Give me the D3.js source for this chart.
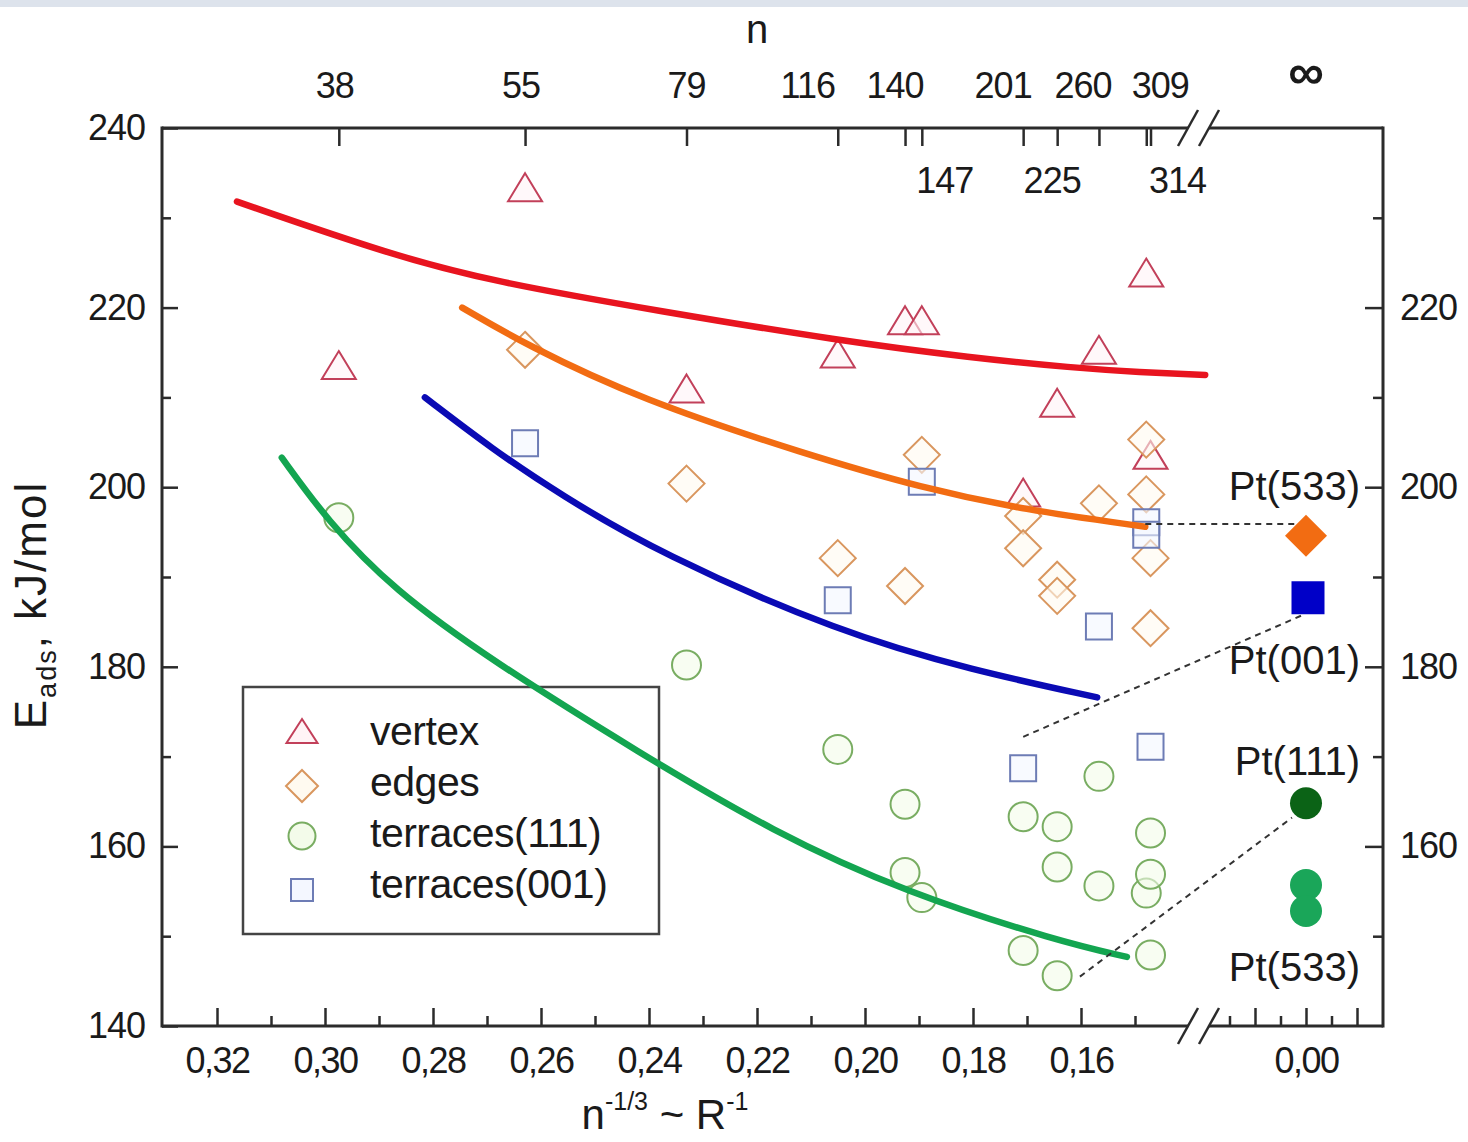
<!DOCTYPE html>
<html>
<head>
<meta charset="utf-8">
<script src="https://cdn.jsdelivr.net/npm/d3@7"></script>
<style>
  body { margin: 0; background: #fff; }
  svg { display: block; font-family: 'Liberation Sans', Arial, sans-serif; }
</style>
</head>
<body>
<svg id="chart" width="1468" height="1142"></svg>
<script>
// cluster sizes on the top axis (position = n^-1/3)
var topN = [38, 55, 79, 116, 140, 147, 201, 225, 260, 309, 314]
var topLabelsUp = [38, 55, 79, 116, 140, 201, 260, 309]
var topLabelsDown = [147, 225, 314]

// bottom / side ticks
var xMajor = [0.32, 0.30, 0.28, 0.26, 0.24, 0.22, 0.20, 0.18, 0.16]
var xMinor = [0.31, 0.29, 0.27, 0.25, 0.23, 0.21, 0.19, 0.17, 0.15]
var xrMajor = [0.02, 0.00, -0.02]
var xrMinor = [0.03, 0.01, -0.01]
var xrLabels = [0.00]
var yMajor = [140, 160, 180, 200, 220, 240]
var yMinor = [150, 170, 190, 210, 230]
var yRightLabels = [160, 180, 200, 220]

// adsorption energies, kJ/mol
var vertexN = [38, 55, 79, 116, 140, 147, 201, 225, 260, 309, 314]
var vertexE = [213.6, 233.4, 211.0, 214.9, 218.6, 218.6, 199.4, 209.4, 215.3, 223.9, 203.6]

var edgesN = [55, 79, 116, 140, 147, 201, 201, 225, 225, 260, 309, 309, 314, 314]
var edgesE = [215.3, 200.4, 192.1, 189.0, 203.6, 196.8, 193.2, 189.7, 187.9, 198.2, 205.3, 199.2, 192.1, 184.3]

var t111N = [38, 79, 116, 140, 140, 147, 201, 201, 225, 225, 225, 260, 260, 309, 314, 314, 314]
var t111E = [196.6, 180.2, 170.8, 164.7, 157.1, 154.3, 163.3, 148.4, 162.2, 157.7, 145.6, 167.8, 155.6, 154.8, 161.5, 156.9, 147.9]

var t001N = [55, 116, 147, 201, 260, 309, 309, 314]
var t001E = [204.9, 187.4, 200.6, 168.7, 184.5, 196.1, 194.7, 171.1]

// fitted curves [n^-1/3, E]
var fitVertex = [[0.3163, 231.8], [0.2874, 225.8], [0.2689, 222.9], [0.2380, 219.6], [0.2046, 216.3], [0.1800, 214.4], [0.1615, 213.3], [0.1491, 212.8], [0.1370, 212.5]]
var fitEdges = [[0.2746, 220.0], [0.2626, 215.8], [0.2417, 209.8], [0.2107, 203.6], [0.1893, 199.9], [0.1707, 197.5], [0.1481, 195.6]]
var fit001 = [[0.2815, 210.0], [0.2689, 204.2], [0.2565, 199.2], [0.2380, 192.6], [0.2046, 183.8], [0.1800, 179.6], [0.1570, 176.6]]
var fit111 = [[0.3080, 203.3], [0.2996, 196.3], [0.2874, 188.6], [0.2689, 180.6], [0.2417, 170.4], [0.2170, 161.6], [0.1922, 154.8], [0.1639, 149.4], [0.1515, 147.7]]

// bulk surfaces (n = infinity)
var surfLabels = ['Pt(533)', 'Pt(001)', 'Pt(111)', 'Pt(533)']
var surfLabelE = [198.6, 179.2, 167.9, 145.0]
var pt533EdgeE = [194.6]
var pt001E = [187.7]
var pt111E = [164.8]
var pt533TerrE = [155.7, 152.8]

// dashed connectors: [from n^-1/3, from E, to x (right part), to E]
var connectors = [
    [0.1481, 195.9, 0.004, 195.9],
    [0.1707, 172.2, 0.001, 185.8],
    [0.1602, 145.5, 0.0055, 163.2]
]

var legendItems = ['vertex', 'edges', 'terraces(111)', 'terraces(001)']

var svg = d3.select('#chart')
var x = d3.scaleLinear().domain([0.32, 0.14]).range([217, 1189])
var xr = d3.scaleLinear().domain([0.02, -0.02]).range([1255, 1357])
var y = d3.scaleLinear().domain([140, 240]).range([1026, 128])
var L = 162, R = 1383, T = 128, B = 1026
var ink = '#2b2b2b'
var comma = function(v) { return d3.format('.2f')(v).replace('.', ',') }
var nx = function(n) { return x(Math.pow(n, -1 / 3)) }

svg.append('rect').attr('width', 1468).attr('height', 7).attr('fill', '#dde3ec')

function styleAxis(g) {
    g.select('.domain').remove()
    g.selectAll('.tick line').attr('stroke', ink).attr('stroke-width', 2.5)
    g.selectAll('.tick text').attr('fill', '#1a1a1a')
        .style('font-size', '36px')
    g.attr('font-family', null)
}

// bottom axis, left part
svg.append('g').attr('transform', 'translate(0,' + B + ')')
    .call(d3.axisBottom(x).tickValues(xMajor).tickSize(-18).tickPadding(21).tickFormat(comma))
    .call(styleAxis)
    .selectAll('.tick text').style('letter-spacing', '-1.5px')
svg.append('g').attr('transform', 'translate(0,' + B + ')')
    .call(d3.axisBottom(x).tickValues(xMinor).tickSize(-10).tickFormat(''))
    .call(styleAxis)
// bottom axis, right part
svg.append('g').attr('transform', 'translate(0,' + B + ')')
    .call(d3.axisBottom(xr).tickValues(xrMajor).tickSize(-18).tickFormat(''))
    .call(styleAxis)
svg.append('g').attr('transform', 'translate(0,' + B + ')')
    .call(d3.axisBottom(xr).tickValues(xrMinor).tickSize(-10).tickFormat(''))
    .call(styleAxis)
svg.append('g').attr('transform', 'translate(0,' + B + ')')
    .call(d3.axisBottom(xr).tickValues(xrLabels).tickSize(0).tickPadding(21).tickFormat(comma))
    .call(styleAxis)
    .selectAll('.tick text').style('letter-spacing', '-1.5px')

// left axis
svg.append('g').attr('transform', 'translate(' + L + ',0)')
    .call(d3.axisLeft(y).tickValues(yMajor).tickSize(-16).tickPadding(17).tickFormat(d3.format('d')))
    .call(styleAxis)
    .selectAll('.tick text').style('letter-spacing', '-1px')
svg.append('g').attr('transform', 'translate(' + L + ',0)')
    .call(d3.axisLeft(y).tickValues(yMinor).tickSize(-9).tickFormat(''))
    .call(styleAxis)

// right axis
svg.append('g').attr('transform', 'translate(' + R + ',0)')
    .call(d3.axisRight(y).tickValues(yRightLabels).tickSize(-18).tickPadding(17).tickFormat(d3.format('d')))
    .call(styleAxis)
    .selectAll('.tick text').style('letter-spacing', '-1px')
svg.append('g').attr('transform', 'translate(' + R + ',0)')
    .call(d3.axisRight(y).tickValues(yMinor).tickSize(-10).tickFormat(''))
    .call(styleAxis)

// top axis: cluster sizes
svg.append('g').attr('transform', 'translate(0,' + T + ')')
    .call(d3.axisTop(x).tickValues(topN.map(function(n) { return Math.pow(n, -1 / 3) })).tickSize(-18).tickFormat(''))
    .call(styleAxis)

var upShift = { 38: -4, 55: -4, 79: 0, 116: -30, 140: -10, 201: -20, 260: -16, 309: 14 }
var downShift = { 147: 23, 225: -5, 314: 27 }
svg.selectAll('.nUp').data(topLabelsUp).enter().append('text')
    .attr('x', function(d) { return nx(d) + upShift[d] })
    .attr('y', 98).attr('text-anchor', 'middle')
    .style('font-size', '36px').style('letter-spacing', '-1px').attr('fill', '#1a1a1a')
    .text(function(d) { return d })
svg.selectAll('.nDown').data(topLabelsDown).enter().append('text')
    .attr('x', function(d) { return nx(d) + downShift[d] })
    .attr('y', 193).attr('text-anchor', 'middle')
    .style('font-size', '36px').style('letter-spacing', '-1px').attr('fill', '#1a1a1a')
    .text(function(d) { return d })
svg.append('text').attr('x', 757).attr('y', 43).attr('text-anchor', 'middle')
    .style('font-size', '40px').attr('fill', '#1a1a1a').text('n')
svg.append('text').attr('x', xr(0)).attr('y', 89).attr('text-anchor', 'middle')
    .style('font-size', '50px').style('font-weight', 'bold').attr('fill', '#1a1a1a').text('\u221e')

// frame with axis breaks
var frame = svg.append('g').attr('stroke', ink).attr('stroke-width', 3).attr('fill', 'none')
frame.append('line').attr('x1', L).attr('x2', L).attr('y1', T - 1.5).attr('y2', B + 1.5)
frame.append('line').attr('x1', R).attr('x2', R).attr('y1', T - 1.5).attr('y2', B + 1.5)
var breaks = [1188, 1209]
;[T, B].forEach(function(yy) {
    frame.append('line').attr('x1', L).attr('x2', breaks[0]).attr('y1', yy).attr('y2', yy)
    frame.append('line').attr('x1', breaks[1]).attr('x2', R).attr('y1', yy).attr('y2', yy)
    breaks.forEach(function(cx) {
        frame.append('line').attr('x1', cx - 10).attr('y1', yy + 18)
            .attr('x2', cx + 10).attr('y2', yy - 18).attr('stroke-width', 2.5)
    })
})

// axis titles
var xt = svg.append('text').attr('x', 665).attr('y', 1129).attr('text-anchor', 'middle')
    .style('font-size', '42px').attr('fill', '#1a1a1a')
xt.append('tspan').text('n')
xt.append('tspan').attr('dy', -19).style('font-size', '25px').text('-1/3')
xt.append('tspan').attr('dy', 19).text(' ~ R')
xt.append('tspan').attr('dy', -19).style('font-size', '25px').text('-1')

var yt = svg.append('text').attr('transform', 'translate(46,605) rotate(-90)')
    .attr('text-anchor', 'middle').style('font-size', '44px').style('letter-spacing', '2px')
    .attr('fill', '#1a1a1a')
yt.append('tspan').text('E')
yt.append('tspan').attr('dy', 10).style('font-size', '27px').text('ads')
yt.append('tspan').attr('dy', -10).text(', kJ/mol')

// legend box (no fill: the green fit runs over its corner)
var legend = svg.append('g')
legend.append('rect').attr('x', 243).attr('y', 687).attr('width', 416).attr('height', 247)
    .attr('fill', 'none').attr('stroke', '#444').attr('stroke-width', 2.5)

// marker shapes
function triPath(w, h) { return 'M0,' + (-h / 2) + 'L' + (w / 2) + ',' + (h / 2) + 'L' + (-w / 2) + ',' + (h / 2) + 'Z' }
function diaPath(r) { return 'M0,' + (-r) + 'L' + r + ',0L0,' + r + 'L' + (-r) + ',0Z' }
function sqPath(s) { var h = s / 2; return 'M' + (-h) + ',' + (-h) + 'H' + h + 'V' + h + 'H' + (-h) + 'Z' }

var styles = [
    { path: triPath(34, 28), lpath: triPath(31, 24), stroke: '#c2405a', fill: '#fff4f6' },
    { path: diaPath(18), lpath: diaPath(16), stroke: '#d9965e', fill: '#fffaf0' },
    { path: null, r: 14.5, lr: 13.5, stroke: '#79ad62', fill: '#f3fbea' },
    { path: sqPath(26), lpath: sqPath(22), stroke: '#6d7cb5', fill: '#f4f7ff' }
]

var legendY = [731, 786, 836, 890]
var legendBase = [745, 796, 847, 898]
legendItems.forEach(function(name, i) {
    var st = styles[i]
    if (st.path) {
        legend.append('path').attr('d', st.lpath).attr('transform', 'translate(302,' + legendY[i] + ')')
            .attr('fill', st.fill).attr('stroke', st.stroke).attr('stroke-width', 2)
    } else {
        legend.append('circle').attr('cx', 302).attr('cy', legendY[i]).attr('r', st.lr)
            .attr('fill', st.fill).attr('stroke', st.stroke).attr('stroke-width', 2)
    }
    legend.append('text').attr('x', 370).attr('y', legendBase[i])
        .style('font-size', '41px').style('letter-spacing', '-0.5px').attr('fill', '#1a1a1a').text(name)
})

// scatter points
function scatter(ns, es, st) {
    var pts = ns.map(function(n, i) { return [n, es[i]] })
    var g = svg.append('g')
    if (st.path) {
        g.selectAll('path').data(pts).enter().append('path')
            .attr('d', st.path)
            .attr('transform', function(d) { return 'translate(' + nx(d[0]) + ',' + y(d[1]) + ')' })
            .attr('fill', st.fill).attr('fill-opacity', 0.6)
            .attr('stroke', st.stroke).attr('stroke-width', 2)
    } else {
        g.selectAll('circle').data(pts).enter().append('circle')
            .attr('cx', function(d) { return nx(d[0]) })
            .attr('cy', function(d) { return y(d[1]) })
            .attr('r', st.r)
            .attr('fill', st.fill).attr('fill-opacity', 0.6)
            .attr('stroke', st.stroke).attr('stroke-width', 2)
    }
}
scatter(vertexN, vertexE, styles[0])
scatter(edgesN, edgesE, styles[1])
scatter(t111N, t111E, styles[2])
scatter(t001N, t001E, styles[3])

// fit curves
var line = d3.line()
    .x(function(d) { return x(d[0]) })
    .y(function(d) { return y(d[1]) })
    .curve(d3.curveBasis)
var fits = [[fitVertex, '#e8141f'], [fitEdges, '#f26c12'], [fit001, '#0a0ab4'], [fit111, '#13a550']]
fits.forEach(function(f) {
    svg.append('path').attr('d', line(f[0])).attr('fill', 'none')
        .attr('stroke', f[1]).attr('stroke-width', 6.5).attr('stroke-linecap', 'round')
})

// dashed connectors to bulk values
svg.selectAll('.conn').data(connectors).enter().append('line')
    .attr('x1', function(d) { return x(d[0]) })
    .attr('y1', function(d) { return y(d[1]) })
    .attr('x2', function(d) { return xr(d[2]) })
    .attr('y2', function(d) { return y(d[3]) })
    .attr('stroke', '#333').attr('stroke-width', 2).attr('stroke-dasharray', '6,5')

// bulk surface markers
svg.selectAll('.s533e').data(pt533EdgeE).enter().append('path')
    .attr('d', diaPath(21))
    .attr('transform', function(d) { return 'translate(' + xr(0) + ',' + y(d) + ')' })
    .attr('fill', '#f26c12')
svg.selectAll('.s001').data(pt001E).enter().append('path')
    .attr('d', sqPath(33))
    .attr('transform', function(d) { return 'translate(' + (xr(0) + 2) + ',' + y(d) + ')' })
    .attr('fill', '#0000c8')
svg.selectAll('.s533t').data(pt533TerrE).enter().append('circle')
    .attr('cx', xr(0)).attr('cy', function(d) { return y(d) }).attr('r', 16)
    .attr('fill', '#1aa659')
svg.selectAll('.s111').data(pt111E).enter().append('circle')
    .attr('cx', xr(0)).attr('cy', function(d) { return y(d) }).attr('r', 16)
    .attr('fill', '#0b6316')

svg.selectAll('.surfLabel').data(surfLabels).enter().append('text')
    .attr('x', 1360).attr('y', function(d, i) { return y(surfLabelE[i]) })
    .attr('text-anchor', 'end').style('font-size', '40px').attr('fill', '#1a1a1a')
    .text(function(d) { return d })
</script>
</body>
</html>
